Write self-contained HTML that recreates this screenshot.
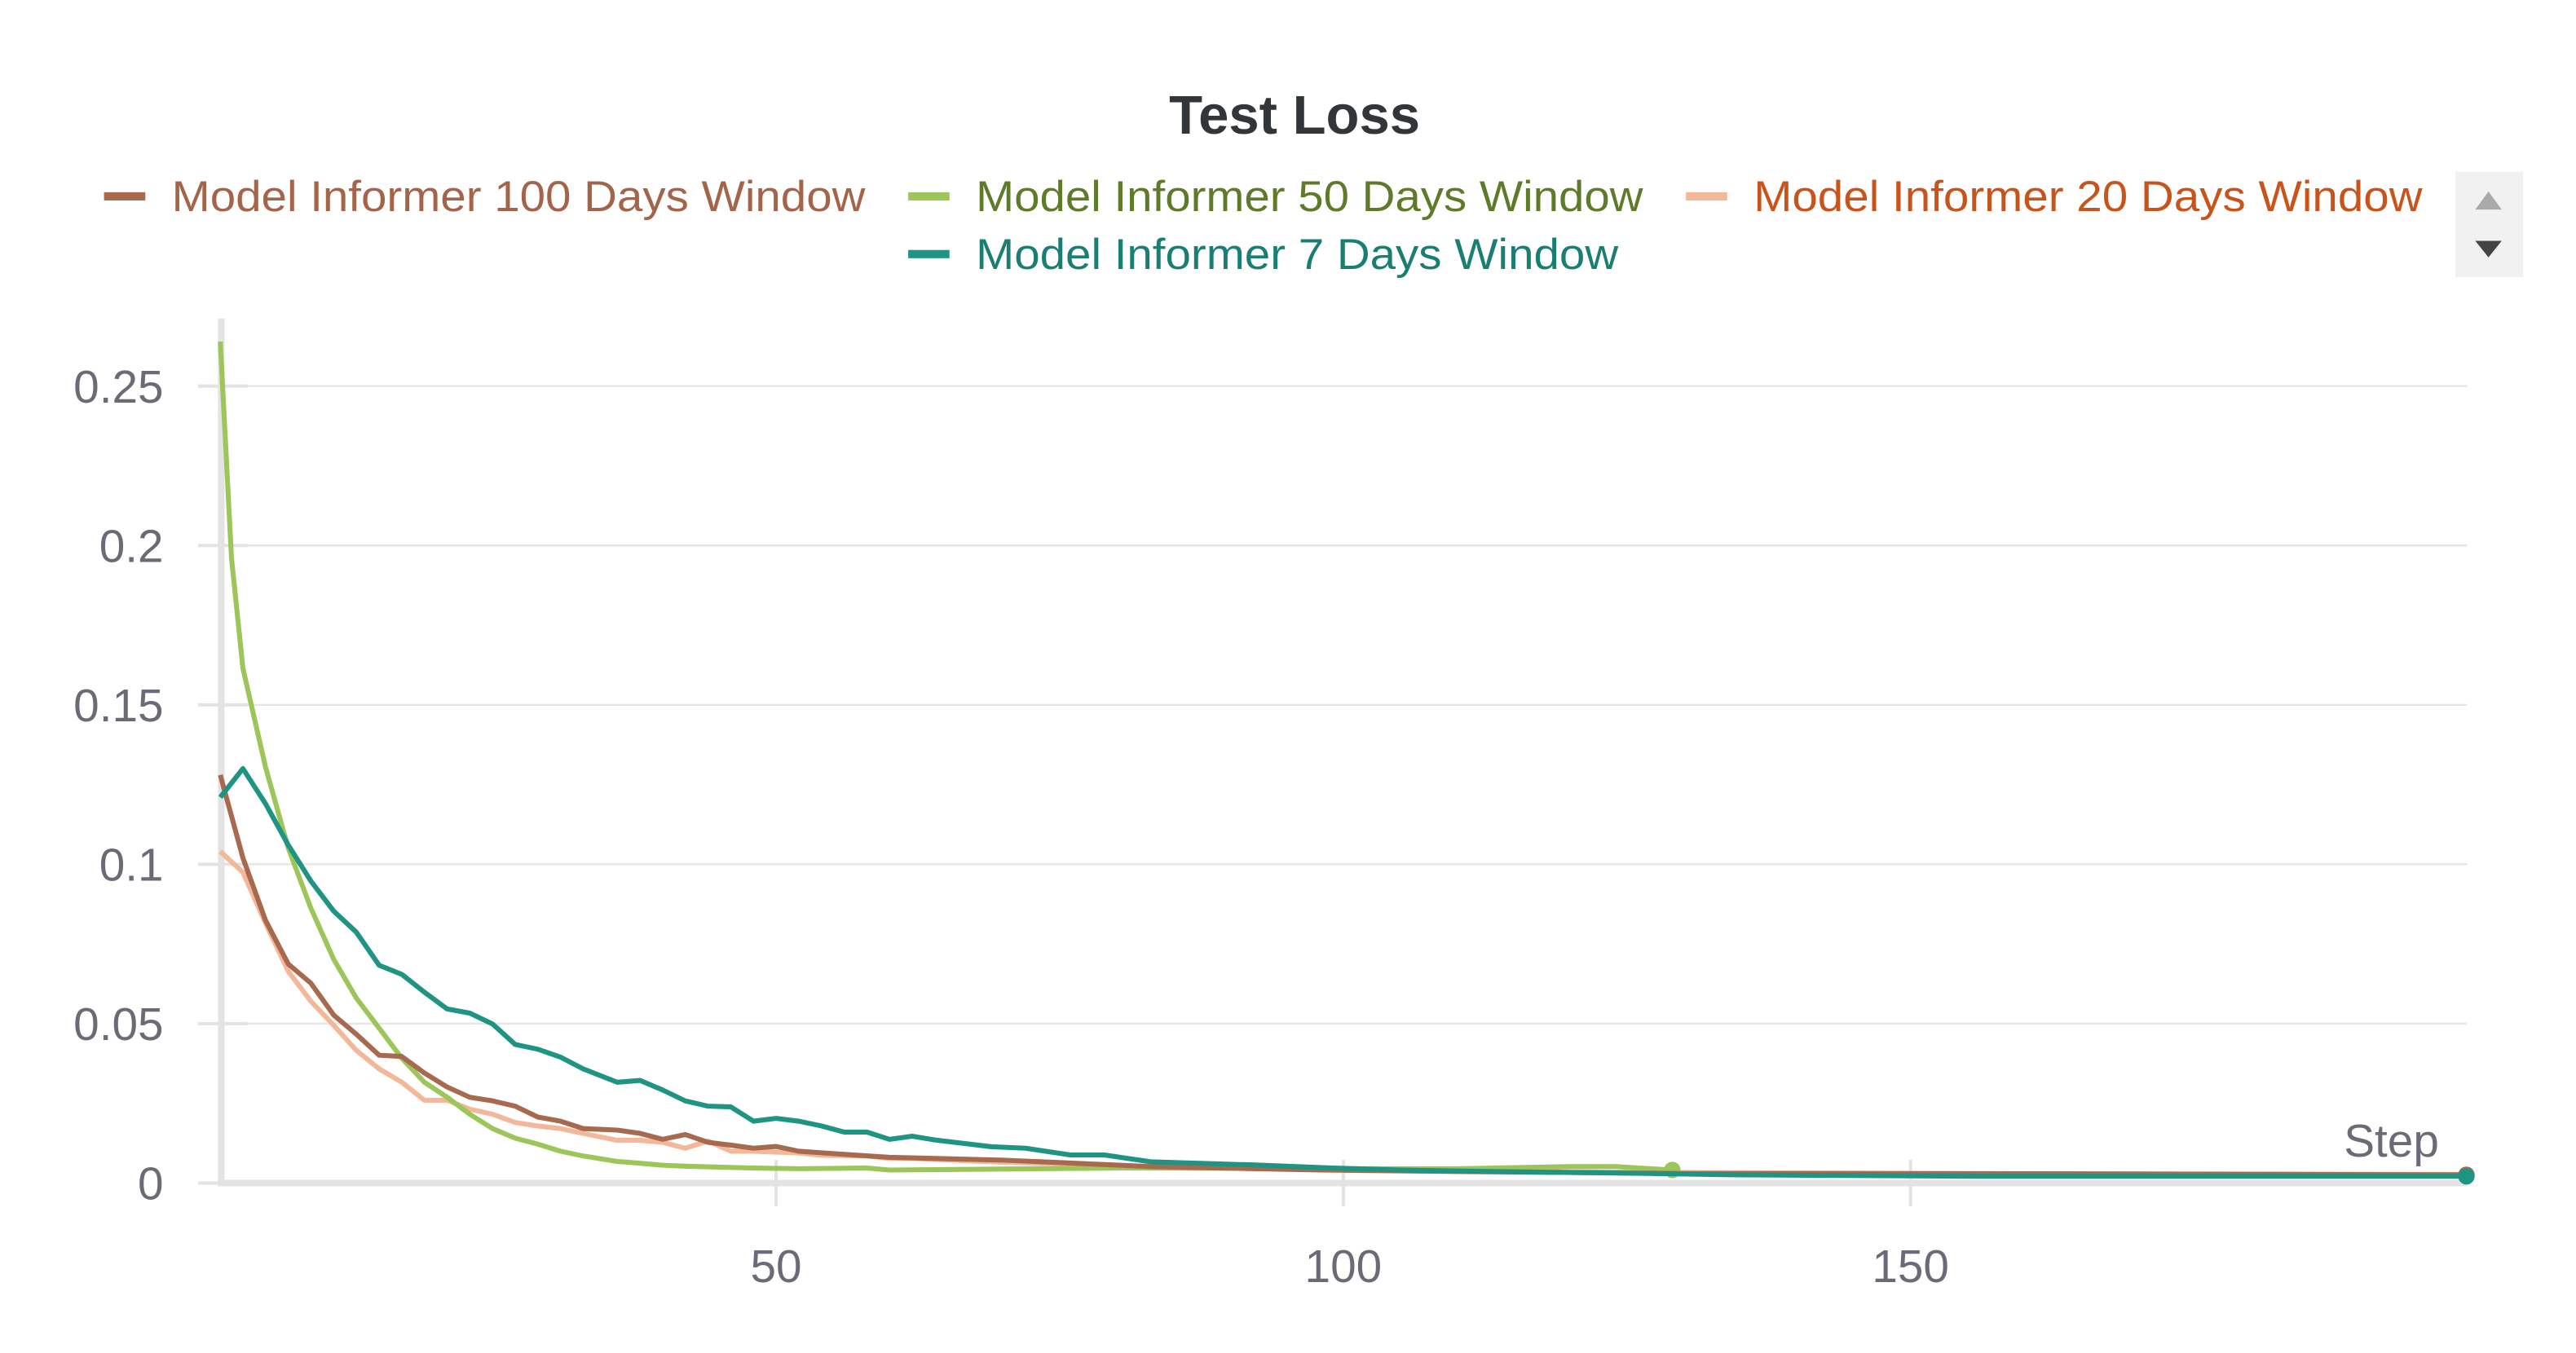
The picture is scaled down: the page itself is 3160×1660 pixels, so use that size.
<!DOCTYPE html>
<html><head><meta charset="utf-8"><style>
html,body{margin:0;padding:0;background:#fff;width:3160px;height:1660px;overflow:hidden}
svg{display:block}
text{font-family:"Liberation Sans",sans-serif}
</style></head><body>
<svg id="chart" width="3160" height="1660" viewBox="0 0 1560 820" preserveAspectRatio="none">
<text x="784" y="81" text-anchor="middle" font-size="33" font-weight="bold" fill="#333638" textLength="152" lengthAdjust="spacingAndGlyphs">Test Loss</text>
<g>
 <g><rect x="63" y="116.5" width="25" height="5" fill="#a86a4e"/><text x="104" y="128" font-size="26" fill="#a4644a" textLength="420" lengthAdjust="spacingAndGlyphs">Model Informer 100 Days Window</text></g>
 <g><rect x="550" y="116.5" width="25" height="5" fill="#9cc65a"/><text x="591" y="128" font-size="26" fill="#5e7b2a" textLength="404" lengthAdjust="spacingAndGlyphs">Model Informer 50 Days Window</text></g>
 <g><rect x="1021" y="116.5" width="25" height="5" fill="#f2b899"/><text x="1062" y="128" font-size="26" fill="#c8541c" textLength="405" lengthAdjust="spacingAndGlyphs">Model Informer 20 Days Window</text></g>
 <g><rect x="550" y="151.5" width="25" height="5" fill="#1f9483"/><text x="591" y="163" font-size="26" fill="#1a7f72" textLength="389" lengthAdjust="spacingAndGlyphs">Model Informer 7 Days Window</text></g>
 <g><rect x="1487" y="104" width="41" height="64" fill="#f1f1f1"/><polygon points="1499,127 1515,127 1507,116" fill="#aaaaaa"/><polygon points="1499,146 1515,146 1507,156" fill="#444444"/></g>
</g>
<g id="grid"></g>
<g id="axes"></g>
<g id="series"></g>
<text x="1477" y="701" text-anchor="end" font-size="28" fill="#6b6b78">Step</text>
</svg>
<script>
const yTicks=[0,0.05,0.1,0.15,0.2,0.25];
const yTickLabels=["0","0.05","0.1","0.15","0.2","0.25"];
const xTicks=[50,100,150];
const xTickLabels=["50","100","150"];
const steps100=[1,3,5,7,9,11,13,15,17,19,21,23,25,27,29,31,33,36,38,40,42,44,46,48,50,52,56,60,70,83,98,110,130,150,175,199];
const vals100=[.128,.102,.0824,.0687,.0627,.0527,.0467,.0401,.0397,.0345,.0301,.0269,.0258,.0241,.0207,.0194,.0171,.0166,.0156,.0137,.0152,.0128,.0119,.0109,.0115,.01,.009,.0081,.0072,.0052,.0041,.0036,.003,.003,.0028,.0026];
const steps50=[1,2,3,5,7,9,11,13,15,17,19,21,23,25,27,29,31,33,36,38,40,42,48,52,58,60,80,100,110,120,124,129];
const vals50=[.264,.196,.1615,.1305,.105,.0862,.0702,.058,.0486,.0392,.0316,.0269,.0216,.0171,.0141,.0122,.01,.0085,.0068,.0062,.0056,.0053,.0047,.0045,.0047,.0041,.0047,.0045,.0045,.0052,.0052,.0041];
const steps20=[1,3,5,7,9,11,13,15,17,19,21,23,25,27,29,31,33,36,38,40,42,44,46,48,52,54,58,60,62,70,80,90,100,120,150,199];
const vals20=[.104,.0975,.0815,.0664,.057,.0495,.0416,.0358,.0316,.026,.026,.0232,.0216,.019,.0179,.0171,.0156,.0134,.0134,.0128,.0109,.0132,.01,.01,.0094,.0087,.0085,.0077,.0077,.0065,.0055,.0047,.0042,.0035,.003,.0027];
const steps7=[1,3,5,7,9,11,13,15,17,19,21,23,25,27,29,31,33,36,38,40,42,44,46,48,50,52,54,56,58,60,62,64,69,72,76,79,83,92,99,105,113,127,134,156,199];
const vals7=[.121,.13,.119,.106,.0947,.0853,.0787,.0683,.0655,.0599,.0546,.0533,.0499,.0435,.042,.0395,.0358,.0316,.0322,.0292,.0258,.0241,.0239,.0194,.0203,.0194,.0179,.016,.016,.0137,.0147,.0135,.0114,.0109,.0088,.0088,.0067,.0057,.0047,.0041,.0036,.003,.0026,.0021,.0021];
const NS="http://www.w3.org/2000/svg";
function xs(s){return 126.5+s*6.87;}
function ys(v){return 717-v*1932;}
function mk(tag,attrs,parent){const e=document.createElementNS(NS,tag);for(const k in attrs)e.setAttribute(k,attrs[k]);parent.appendChild(e);return e;}
const grid=document.getElementById('grid'),axes=document.getElementById('axes'),ser=document.getElementById('series');
yTicks.forEach((t,i)=>{
 if(t>0){const l=mk('line',{x1:120,x2:1494,y1:ys(t),y2:ys(t),stroke:'#e6e6e6','stroke-width':1.2},grid);
 
 }
 const tk=mk('line',{x1:120,x2:150,y1:ys(t),y2:ys(t),stroke:'#e3e3e3','stroke-width':2},axes);
 
 
 const tx=mk('text',{x:99,y:ys(t)+10,'text-anchor':'end','font-size':28,fill:'#6b6b78'},axes);
 tx.textContent=yTickLabels[i];
 
 
});
xTicks.forEach((t,i)=>{
 const tk=mk('line',{x1:xs(t),x2:xs(t),y1:703,y2:731,stroke:'#e3e3e3','stroke-width':2},axes);
 
 
 const tx=mk('text',{x:xs(t),y:777,'text-anchor':'middle','font-size':28,fill:'#6b6b78'},axes);
 tx.textContent=xTickLabels[i];
 
 
});
const ya=mk('line',{x1:134,x2:134,y1:193,y2:719,stroke:'#e3e3e3','stroke-width':4},axes);


const xa=mk('line',{x1:132,x2:1494,y1:717,y2:717,stroke:'#e3e3e3','stroke-width':4},axes);


function draw(st,vs,color,name,dot){
 const d=st.map((s,i)=>(i?'L':'M')+xs(s).toFixed(1)+','+ys(vs[i]).toFixed(1)).join(' ');
 const p=mk('path',{d:d,fill:'none',stroke:color,'stroke-width':3,'stroke-linejoin':'round'},ser);
 
 
 if(dot){const n=st.length-1;const c=mk('circle',{cx:xs(st[n]),cy:ys(vs[n]),r:5,fill:color},ser);
 
 }
}
draw(steps20,vals20,'#f2b899','line-20-days',false);
draw(steps50,vals50,'#9cc65a','line-50-days',true);
draw(steps100,vals100,'#a86a4e','line-100-days',true);
draw(steps7,vals7,'#1f9483','line-7-days',true);
</script>
</body></html>
